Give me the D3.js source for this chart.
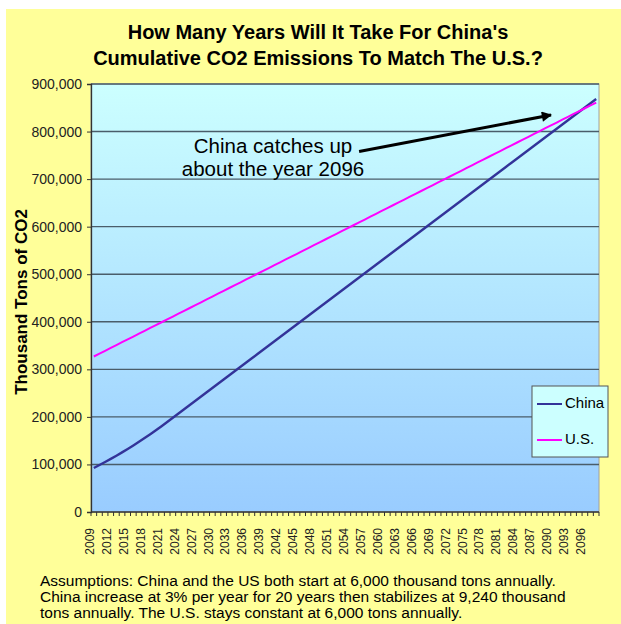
<!DOCTYPE html>
<html><head><meta charset="utf-8">
<script src="https://cdn.jsdelivr.net/npm/d3@7"></script>
<style>
html,body{margin:0;padding:0;background:#fff;}
svg{display:block;font-family:"Liberation Sans",Arial,sans-serif;}
</style></head>
<body>
<svg id="c" width="621" height="624"></svg>
<script>
const years = [2009,2010,2011,2012,2013,2014,2015,2016,2017,2018,
2019,2020,2021,2022,2023,2024,2025,2026,2027,2028,
2029,2030,2031,2032,2033,2034,2035,2036,2037,2038,
2039,2040,2041,2042,2043,2044,2045,2046,2047,2048,
2049,2050,2051,2052,2053,2054,2055,2056,2057,2058,
2059,2060,2061,2062,2063,2064,2065,2066,2067,2068,
2069,2070,2071,2072,2073,2074,2075,2076,2077,2078,
2079,2080,2081,2082,2083,2084,2085,2086,2087,2088,
2089,2090,2091,2092,2093,2094,2095,2096,2097,2098];

const china = [92600,98780,105150,111700,118450,125410,132570,139950,147550,155380,
163450,171750,180310,189120,198060,207000,215940,224880,233820,242760,
251700,260640,269580,278520,287460,296400,305340,314280,323220,332160,
341100,350040,358980,367920,376860,385800,394740,403680,412620,421560,
430500,439440,448380,457320,466260,475200,484140,493080,502020,510960,
519900,528840,537780,546720,555660,564600,573540,582480,591420,600360,
609300,618240,627180,636120,645060,654000,662940,671880,680820,689760,
698700,707640,716580,725520,734460,743400,752340,761280,770220,779160,
788100,797040,805980,814920,823860,832800,841740,850680,859620,868560];

const us = [327000,333000,339000,345000,351000,357000,363000,369000,375000,381000,
387000,393000,399000,405000,411000,417000,423000,429000,435000,441000,
447000,453000,459000,465000,471000,477000,483000,489000,495000,501000,
507000,513000,519000,525000,531000,537000,543000,549000,555000,561000,
567000,573000,579000,585000,591000,597000,603000,609000,615000,621000,
627000,633000,639000,645000,651000,657000,663000,669000,675000,681000,
687000,693000,699000,705000,711000,717000,723000,729000,735000,741000,
747000,753000,759000,765000,771000,777000,783000,789000,795000,801000,
807000,813000,819000,825000,831000,837000,843000,849000,855000,861000];

const yTicks = [0,100000,200000,300000,400000,500000,600000,700000,800000,900000];
const titleLines = ["How Many Years Will It Take For China's","Cumulative CO2 Emissions To Match The U.S.?"];
const yTitle = "Thousand Tons of CO2";
const annotation = ["China catches up","about the year 2096"];
const seriesNames = ["China","U.S."];
const seriesColors = ["#333399","#ff00ff"];
const footnote = ["Assumptions: China and the US both start at 6,000 thousand tons annually.",
"China increase at 3% per year for 20 years then stabilizes at 9,240 thousand",
"tons annually. The U.S. stays constant at 6,000 tons annually."];
const arrowTarget = {year: 2090, value: 835000};
const arrowStart = {year: 2056, value: 758000};

const svg = d3.select("#c");
const L=91, R=599, T=84, B=512;

svg.append("rect").attr("x",6).attr("y",9).attr("width",615).attr("height",615).attr("fill","#ffff99");

const defs = svg.append("defs");
const g = defs.append("linearGradient").attr("id","bg").attr("x1",0).attr("y1",0).attr("x2",0).attr("y2",1);
g.append("stop").attr("offset","0%").attr("stop-color","#ccffff");
g.append("stop").attr("offset","100%").attr("stop-color","#99ccff");
const m = defs.append("marker").attr("id","ah").attr("viewBox","0 0 10 10").attr("refX",9).attr("refY",5)
  .attr("markerWidth",4.2).attr("markerHeight",3.4).attr("orient","auto").attr("markerUnits","strokeWidth");
m.append("path").attr("d","M0,0 L10,5 L0,10 z").attr("fill","#000");

const x = d3.scaleBand().domain(years).range([L,R]).padding(0);
const bw = x.bandwidth();
const cx = d => x(d)+bw/2;
const y = d3.scaleLinear().domain([0,900000]).range([B,T]);

svg.append("rect").attr("x",L).attr("y",T).attr("width",R-L).attr("height",B-T)
  .attr("fill","url(#bg)").attr("stroke","#a0a0a0").attr("stroke-width",1);

svg.append("g").selectAll("line").data(yTicks.filter(d=>d>0)).join("line")
  .attr("x1",L).attr("x2",R).attr("y1",d=>y(d)).attr("y2",d=>y(d))
  .attr("stroke","#4a5d6a").attr("stroke-width",1.4);

const ya = svg.append("g").attr("transform",`translate(${L},0)`)
  .call(d3.axisLeft(y).tickValues(yTicks).tickFormat(d3.format(",")).tickSize(4).tickPadding(5));
ya.select(".domain").attr("stroke","#333").attr("stroke-width",1.3);
ya.selectAll(".tick line").attr("stroke","#333");
ya.selectAll("text").attr("font-size",14).attr("fill","#222").attr("font-family","Liberation Sans, Arial, sans-serif");

svg.append("line").attr("x1",L).attr("x2",R).attr("y1",B).attr("y2",B).attr("stroke","#333").attr("stroke-width",1.3);
const tickPos = years.map(d=>x(d)).concat([R]);
svg.append("g").selectAll("line").data(tickPos).join("line")
  .attr("x1",d=>d).attr("x2",d=>d).attr("y1",B).attr("y2",B+4).attr("stroke","#333").attr("stroke-width",1);
svg.append("g").selectAll("text").data(years.filter((d,i)=>i%3===0)).join("text")
  .attr("transform",d=>`translate(${cx(d)-3},${B+16}) rotate(-90)`)
  .attr("text-anchor","end").attr("dominant-baseline","middle")
  .attr("font-size",12).attr("fill","#222").text(d=>d);

const series = [china, us];
const line = d3.line().x((d,i)=>cx(years[i])).y(d=>y(d));
svg.append("g").selectAll("path").data(series).join("path")
  .attr("d",d=>line(d)).attr("fill","none")
  .attr("stroke",(d,i)=>seriesColors[i]).attr("stroke-width",(d,i)=>i===0?2.4:2);

svg.append("g").selectAll("text").data(titleLines).join("text")
  .attr("x",318).attr("y",(d,i)=>39+i*26).attr("text-anchor","middle")
  .attr("font-size",20).attr("font-weight","bold").attr("fill","#000").text(d=>d);
svg.append("text").attr("transform",`translate(27,${(T+B)/2+4}) rotate(-90)`)
  .attr("text-anchor","middle").attr("font-size",17).attr("font-weight","bold").text(yTitle);

svg.append("g").selectAll("text").data(annotation).join("text")
  .attr("x",273).attr("y",(d,i)=>153+i*23).attr("text-anchor","middle")
  .attr("font-size",20.5).attr("fill","#000").text(d=>d);
svg.append("line").attr("x1",cx(arrowStart.year)).attr("y1",y(arrowStart.value))
  .attr("x2",cx(arrowTarget.year)).attr("y2",y(arrowTarget.value))
  .attr("stroke","#000").attr("stroke-width",3).attr("marker-end","url(#ah)");

const lg = svg.append("g").attr("transform","translate(532,386)");
lg.append("rect").attr("width",76).attr("height",71).attr("fill","#ccffff").attr("stroke","#555").attr("stroke-width",1);
seriesNames.forEach((n,i)=>{
  const yy = 18+i*36;
  lg.append("line").attr("x1",5).attr("x2",30).attr("y1",yy).attr("y2",yy).attr("stroke",seriesColors[i]).attr("stroke-width",2);
  lg.append("text").attr("x",33).attr("y",yy).attr("dominant-baseline","middle").attr("font-size",15).text(n);
});

svg.append("g").selectAll("text").data(footnote).join("text")
  .attr("x",40).attr("y",(d,i)=>586+i*16).attr("font-size",15.5).attr("fill","#000").text(d=>d);
</script>
</body></html>
